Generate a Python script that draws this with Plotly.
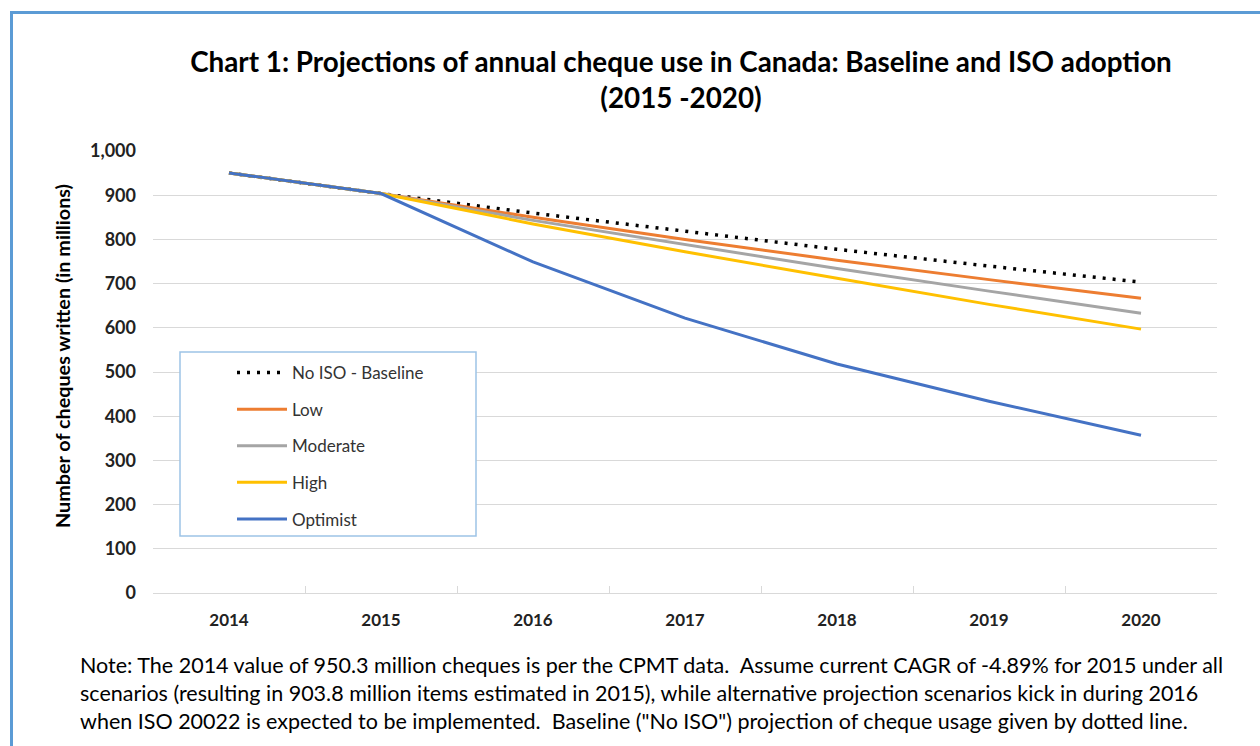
import plotly.graph_objects as go

years = ["2014", "2015", "2016", "2017", "2018", "2019", "2020"]
baseline = [950.3, 903.8, 859.6, 817.6, 777.6, 739.6, 703.4]
low = [950.3, 903.8, 850, 800, 753, 709, 667]
moderate = [950.3, 903.8, 843, 788, 734, 683, 633]
high = [950.3, 903.8, 835, 772, 712, 653, 597]
optimist = [950.3, 903.8, 749, 622, 518, 434, 357]

W, H = 1260, 746
L, R, T, B = 153, 43, 151, 153
PW, PH = W - L - R, H - T - B

def px(x):
    return (x - L) / PW

def py(y):
    return (H - B - y) / PH

FONT = "Lato"

fig = go.Figure()
fig.add_trace(go.Scatter(x=years, y=baseline, mode="lines", name="No ISO - Baseline",
                         line=dict(color="black", width=3.5, dash="3px,7px")))
fig.add_trace(go.Scatter(x=years, y=low, mode="lines", name="Low",
                         line=dict(color="#ed7d31", width=3)))
fig.add_trace(go.Scatter(x=years, y=moderate, mode="lines", name="Moderate",
                         line=dict(color="#a5a5a5", width=3)))
fig.add_trace(go.Scatter(x=years, y=high, mode="lines", name="High",
                         line=dict(color="#ffc000", width=3)))
fig.add_trace(go.Scatter(x=years, y=optimist, mode="lines", name="Optimist",
                         line=dict(color="#4472c4", width=3)))

fig.update_layout(
    width=W, height=H,
    margin=dict(l=L, r=R, t=T, b=B),
    paper_bgcolor="white", plot_bgcolor="white",
    font=dict(family=FONT, color="#222222"),
    title=dict(text="<b>Chart 1: Projections of annual cheque use in Canada: Baseline and ISO adoption<br>(2015 -2020)</b>",
               x=681 / W, xanchor="center", y=1 - 72 / H, yanchor="top",
               font=dict(size=27.8, family=FONT, color="black")),
    showlegend=True,
    legend=dict(x=px(232), y=py(355), xanchor="left", yanchor="top",
                bgcolor="rgba(0,0,0,0)", borderwidth=0,
                font=dict(size=17, family=FONT, color="#333333"),
                tracegroupgap=11.5, itemwidth=50),
    xaxis=dict(type="category", range=[-0.5, 6.5], showgrid=False, showline=True,
               linecolor="#d9d9d9", linewidth=1,
               ticks="inside", ticklen=7, tickcolor="#d9d9d9", tickson="boundaries",
               tickfont=dict(size=17, family=FONT, color="#222222", weight="bold"),
               ticklabelstandoff=12),
    yaxis=dict(range=[0, 1000], dtick=100, tickformat=",d", showgrid=True, gridcolor="#d9d9d9",
               gridwidth=1, zeroline=False, showline=False, ticks="",
               tickfont=dict(size=18, family=FONT, color="#222222", weight="bold"),
               ticklabelstandoff=16),
)

for i, tr in enumerate(fig.data):
    tr.legendgroup = "g%d" % i

# legend box
fig.add_shape(type="rect", xref="paper", yref="paper",
              x0=px(180), x1=px(476), y0=py(536), y1=py(352),
              line=dict(color="#9dc3e6", width=1.5), fillcolor="white", layer="above")

# outer blue border (top and left visible)
fig.add_shape(type="rect", xref="paper", yref="paper",
              x0=px(11.5), x1=px(1275), y0=py(760), y1=py(12.5),
              line=dict(color="#5b9bd5", width=3), fillcolor="rgba(0,0,0,0)")

fig.add_annotation(text="<b>Number of cheques written (in millions)</b>", textangle=-90,
                   xref="paper", yref="paper", x=px(62), y=py(356), showarrow=False,
                   xanchor="center", yanchor="middle",
                   font=dict(size=19.8, family=FONT, color="black"))

note = ("Note: The 2014 value of 950.3 million cheques is per the CPMT data.  Assume current CAGR of -4.89% for 2015 under all<br>"
        "scenarios (resulting in 903.8 million items estimated in 2015), while alternative projection scenarios kick in during 2016<br>"
        "when ISO 20022 is expected to be implemented.  Baseline (\"No ISO\") projection of cheque usage given by dotted line.")
fig.add_annotation(text=note, xref="paper", yref="paper", x=px(78), y=py(650),
                   xanchor="left", yanchor="top", align="left", showarrow=False,
                   font=dict(size=21.5, family=FONT, color="black"))

fig.write_html("out.html", config={"displayModeBar": False},
               post_script="document.body.style.margin='0';document.body.style.overflow='hidden';")
